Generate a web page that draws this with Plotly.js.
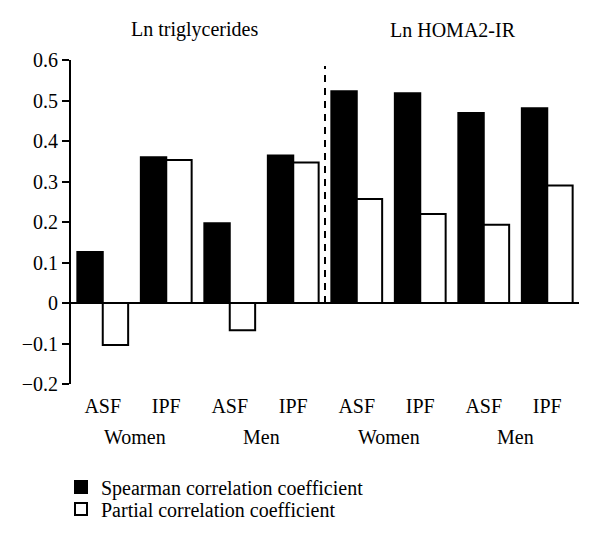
<!DOCTYPE html>
<html>
<head>
<meta charset="utf-8">
<script src="https://cdn.plot.ly/plotly-3.0.1.min.js"></script>
<style>html,body{margin:0;padding:0;background:#fff;}#chart{width:600px;height:548px;}</style>
</head>
<body>
<div id="chart"></div>
<script>
// ---- data ----
const panels = ['Ln triglycerides', 'Ln HOMA2-IR'];
const groups = ['Women', 'Men', 'Women', 'Men'];
const fatTypes = ['ASF', 'IPF', 'ASF', 'IPF', 'ASF', 'IPF', 'ASF', 'IPF'];
const spearman = [0.126, 0.360, 0.197, 0.364, 0.523, 0.518, 0.469, 0.481];
const partial = [-0.104, 0.353, -0.067, 0.347, 0.257, 0.220, 0.193, 0.290];
const seriesNames = ['Spearman correlation coefficient', 'Partial correlation coefficient'];
const yTicks = [-0.2, -0.1, 0, 0.1, 0.2, 0.3, 0.4, 0.5, 0.6];
const yTickText = ['\u22120.2', '\u22120.1', '0', '0.1', '0.2', '0.3', '0.4', '0.5', '0.6'];

const FONT = '"Liberation Serif", "Times New Roman", serif';
const FS = 20;
const xPos = fatTypes.map((_, i) => i);

const traces = [
  {type: 'bar', name: seriesNames[0], x: xPos, y: spearman, legend: 'legend',
   marker: {color: '#000', line: {color: '#000', width: 2}}},
  {type: 'bar', name: seriesNames[1], x: xPos, y: partial, legend: 'legend2',
   marker: {color: '#fff', line: {color: '#000', width: 2}}}
];

const annotations = [];
const panelX = [1.45, 5.52];
panels.forEach((p, k) => {
  annotations.push({text: p, xref: 'x', yref: 'paper', x: panelX[k], y: 1.0926,
    xanchor: 'center', yanchor: 'middle', showarrow: false, font: {family: FONT, size: FS, color: '#000'}});
});
groups.forEach((g, k) => {
  annotations.push({text: g, xref: 'x', yref: 'paper', x: 0.5 + 2 * k, y: -0.1636,
    xanchor: 'center', yanchor: 'middle', showarrow: false, font: {family: FONT, size: FS, color: '#000'}});
});

const legendBase = {orientation: 'v', x: -0.0197, xanchor: 'left', yanchor: 'middle',
  font: {family: FONT, size: FS, color: '#000'}, bgcolor: 'rgba(0,0,0,0)'};

const layout = {
  width: 600, height: 548,
  margin: {l: 71, r: 21, t: 60, b: 164},
  paper_bgcolor: '#fff', plot_bgcolor: '#fff',
  font: {family: FONT, size: FS, color: '#000'},
  barmode: 'group', bargap: 0.2, bargroupgap: 0,
  showlegend: true,
  legend: Object.assign({}, legendBase, {y: -0.318}),
  legend2: Object.assign({}, legendBase, {y: -0.386}),
  xaxis: {range: [-0.5, 7.5], tickvals: xPos, ticktext: fatTypes, showgrid: false,
    zeroline: false, showline: false, ticks: '', ticklabelstandoff: 8,
    tickfont: {family: FONT, size: FS, color: '#000'}, fixedrange: true},
  yaxis: {range: [-0.2, 0.6], tickvals: yTicks, ticktext: yTickText, showgrid: false,
    zeroline: true, zerolinecolor: '#000', zerolinewidth: 2,
    showline: true, linecolor: '#000', linewidth: 2,
    ticks: 'outside', ticklen: 7, tickwidth: 2, tickcolor: '#000',
    tickfont: {family: FONT, size: FS, color: '#000'}, fixedrange: true},
  shapes: [{type: 'line', xref: 'x', yref: 'y', x0: 3.5, x1: 3.5, y0: 0, y1: 0.585,
    line: {color: '#000', width: 2, dash: '7px,6px'}}],
  annotations: annotations
};

Plotly.newPlot('chart', traces, layout, {displayModeBar: false, staticPlot: true});
</script>
</body>
</html>
